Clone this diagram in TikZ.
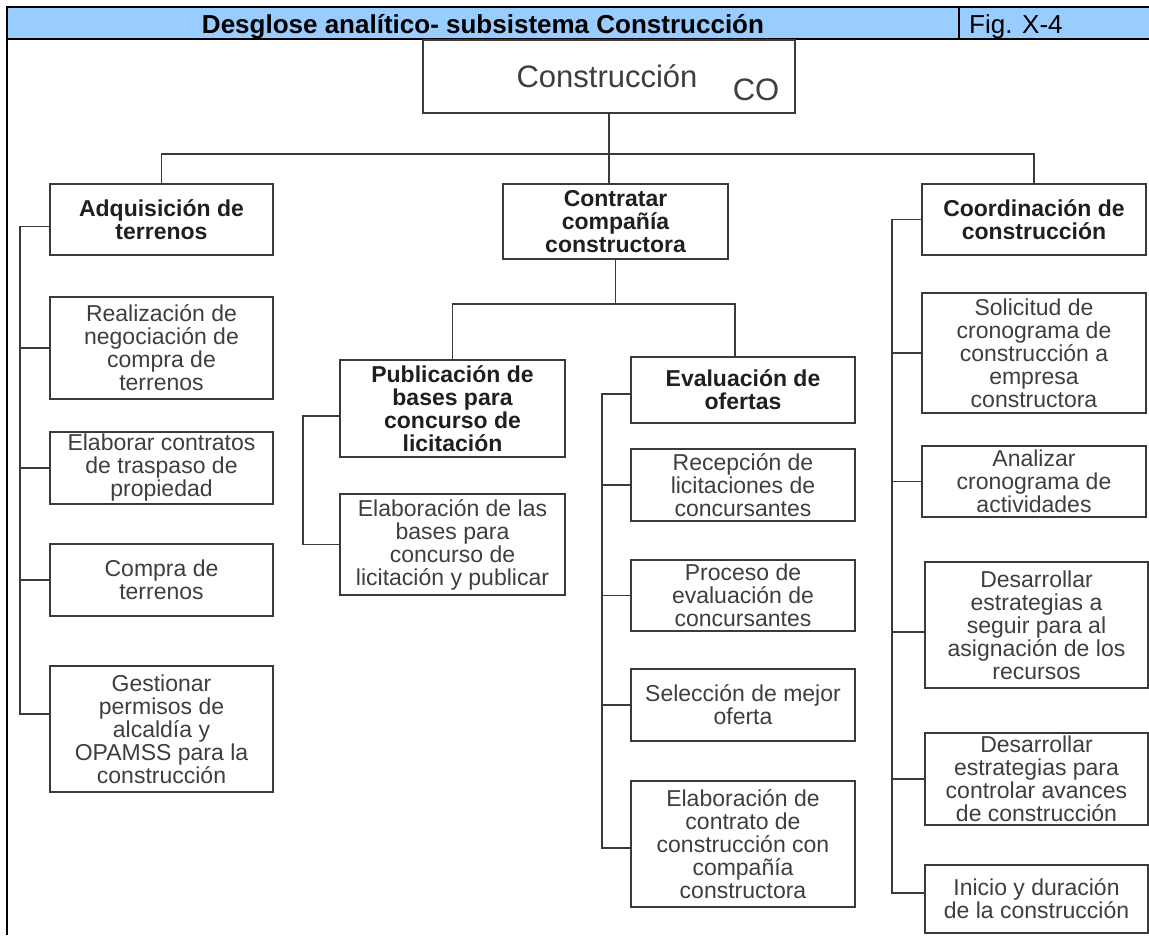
\documentclass[tikz,border=0pt]{standalone}
\usepackage{fontspec}
\setmainfont{Liberation Sans}
\definecolor{hdrblue}{RGB}{153,204,255}
\definecolor{ink}{RGB}{58,58,58}
\definecolor{txt}{RGB}{62,62,62}

% caja rectangular: nombre, estilo, izq, arriba, der, abajo, texto
\newcommand\wbsbox[7]{%
  \node[#2,minimum width={#5-#3},minimum height={#6-#4}] (#1)
    at ({(#3+#5)/2},{(#4+#6)/2}) {#7};}

\begin{document}
\begin{tikzpicture}[x=1pt,y=-1pt,
  box/.style={draw=ink,line width=1.8pt,inner sep=0pt,align=center,text=txt,
    font=\fontsize{23}{23}\selectfont},
  boxb/.style={box,text=black!88,font=\fontsize{23}{23}\selectfont\bfseries},
  link/.style={draw=ink,line width=1.8pt}]
\useasboundingbox (0,0) rectangle (1149,935);

% cabecera
\fill[hdrblue] (7,7) rectangle (1149,39);
\draw[line width=2.4pt] (1149,7) -- (7,7) -- (7,935) (7,39) -- (1149,39) (959,7) -- (959,39);
\node[anchor=base,font=\fontsize{26}{26}\selectfont\bfseries] (tit) at (483,33)
  {Desglose analítico- subsistema Construcción};
\node[anchor=base west,inner sep=0pt,font=\fontsize{26}{26}\selectfont] (fig) at (969,33) {Fig. X-4};

% raiz
\wbsbox{root}{box}{423}{40}{795}{113}{}
\node[anchor=base,text=txt,font=\fontsize{31}{31}\selectfont] (rootlbl) at (607,87) {Construcción};
\node[anchor=base,text=txt,font=\fontsize{31}{31}\selectfont] (co) at (756,100) {CO};

% primer nivel
\wbsbox{adq}{boxb}{50}{184}{273}{255}{Adquisición de\\terrenos}
\wbsbox{con}{boxb}{503}{184}{728}{259}{Contratar\\compañía\\constructora}
\wbsbox{coo}{boxb}{922}{184}{1146}{255}{Coordinación de\\construcción}

% adquisicion de terrenos
\wbsbox{rea}{box}{50}{297}{273}{399}{Realización de\\negociación de\\compra de\\terrenos}
\wbsbox{ela}{box}{50}{432}{273}{504}{Elaborar contratos\\de traspaso de\\propiedad}
\wbsbox{com}{box}{50}{544}{273}{616}{Compra de\\terrenos}
\wbsbox{ges}{box}{50}{666}{273}{792}{Gestionar\\permisos de\\alcaldía y\\OPAMSS para la\\construcción}

% contratar compania
\wbsbox{pub}{boxb}{340}{360}{565}{457}{Publicación de\\bases para\\concurso de\\licitación}
\wbsbox{bas}{box}{340}{494}{565}{595}{Elaboración de las\\bases para\\concurso de\\licitación y publicar}
\wbsbox{eva}{boxb}{631}{357}{855}{423}{Evaluación de\\ofertas}
\wbsbox{rec}{box}{631}{449}{855}{521}{Recepción de\\licitaciones de\\concursantes}
\wbsbox{pro}{box}{631}{560}{855}{631}{Proceso de\\evaluación de\\concursantes}
\wbsbox{sel}{box}{631}{669}{855}{741}{Selección de mejor\\oferta}
\wbsbox{ctr}{box}{631}{781}{855}{907}{Elaboración de\\contrato de\\construcción con\\compañía\\constructora}

% coordinacion
\wbsbox{sol}{box}{922}{293}{1146}{413}{Solicitud de\\cronograma de\\construcción a\\empresa\\constructora}
\wbsbox{ana}{box}{922}{446}{1146}{517}{Analizar\\cronograma de\\actividades}
\wbsbox{dea}{box}{925}{562}{1148}{688}{Desarrollar\\estrategias a\\seguir para al\\asignación de los\\recursos}
\wbsbox{dep}{box}{925}{733}{1148}{825}{Desarrollar\\estrategias para\\controlar avances\\de construcción}
\wbsbox{ini}{box}{925}{865}{1148}{933}{Inicio y duración\\de la construcción}

% lineas del arbol
\coordinate (bus) at (0,154);
\coordinate (cb) at (735,304);
\draw[link] (root.south) -- (root.south |- con.north);
\draw[link] (adq.north) |- (bus -| coo.north) -- (coo.north);
\draw[link] (con.south) -- (con.south |- cb);
\draw[link] (pub.north) |- (cb) -- (cb |- eva.north);

% ramas laterales
\coordinate (sa) at (20,0);
\coordinate (sp) at (303,0);
\coordinate (se) at (602,0);
\coordinate (sc) at (892,0);
\path ([yshift=-7pt]adq.west) coordinate (a0) ([yshift=15pt]ges.west) coordinate (a4)
      ([yshift=-7.5pt]pub.west) coordinate (p0)
      ([yshift=-4pt]eva.west) coordinate (e0) ([yshift=-4pt]ctr.west) coordinate (e4)
      ([yshift=6pt]ini.west) coordinate (c5) ([yshift=-7pt]dea.west) coordinate (c3);
\draw[link] (a0) -- (a0 -| sa) -- (a4 -| sa) -- (a4);
\foreach \c in {rea,ela,com} \draw[link] (\c.west) -- (\c.west -| sa);
\draw[link] (p0) -- (p0 -| sp) |- (bas.west);
\draw[link] (e0) -- (e0 -| se) -- (e4 -| se) -- (e4);
\foreach \c in {rec,pro,sel} \draw[link] (\c.west) -- (\c.west -| se);
\draw[link] (coo.west) -- (coo.west -| sc) -- (c5 -| sc) -- (c5);
\foreach \c in {sol,ana,dep} \draw[link] (\c.west) -- (\c.west -| sc);
\draw[link] (c3) -- (c3 -| sc);
\end{tikzpicture}
\end{document}
